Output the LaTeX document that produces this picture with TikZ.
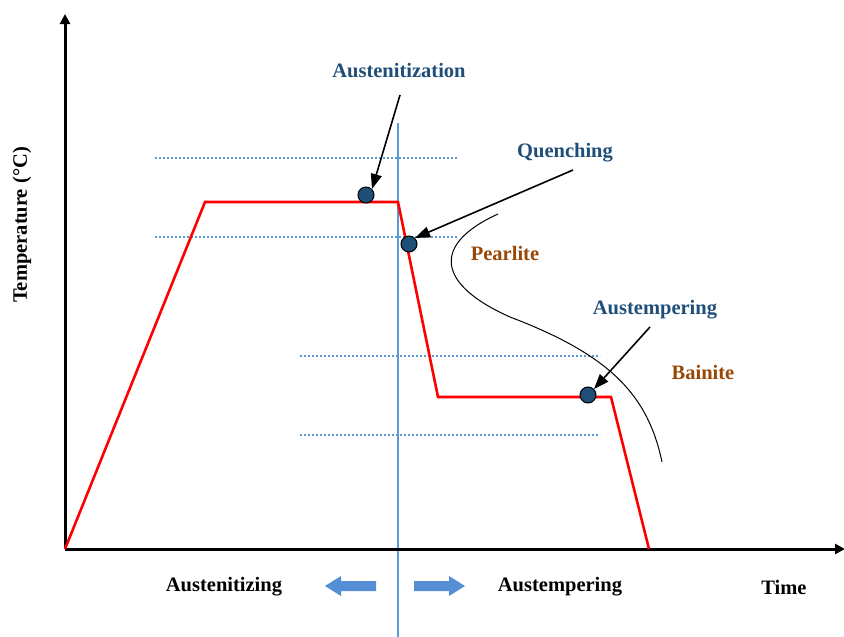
\documentclass[tikz,border=0pt]{standalone}
\usepackage{fontspec}
\setmainfont{Liberation Serif}
\usetikzlibrary{arrows.meta}
\definecolor{lblue}{RGB}{31,78,121}
\definecolor{lbrown}{RGB}{152,72,6}
\definecolor{lineblue}{RGB}{91,155,213}
\definecolor{arrblue}{RGB}{85,142,213}
\definecolor{dotblue}{RGB}{31,78,121}
\tikzset{
  axis/.style={line width=3pt,-{Triangle[length=10pt,width=10pt]}},
  lab/.style={font=\bfseries\fontsize{20.5}{24}\selectfont,text=lblue},
  phase/.style={font=\bfseries\fontsize{20.5}{24}\selectfont,text=lbrown},
  blk/.style={font=\bfseries\fontsize{20.5}{24}\selectfont,text=black},
  pt/.style={circle,fill=dotblue,draw=black,line width=1pt,minimum size=16pt,inner sep=0pt},
  ptr/.style={line width=1.6pt,-{Triangle[length=15pt,width=11pt]}},
  hdot/.style={lineblue,line width=1.5pt,dash pattern=on 1.8pt off 2.2pt},
  bigarr/.style={fill=arrblue,draw=none}
}
\begin{document}
\begin{tikzpicture}[x=1pt,y=-1pt]
\useasboundingbox (0,0) rectangle (844,637);
% dotted levels
\draw[hdot] (155,158) -- (457,158);
\draw[hdot] (155,237) -- (457,237);
\draw[hdot] (300,356) -- (600,356);
\draw[hdot] (300,435) -- (600,435);
% vertical divider
\coordinate (vtop) at (398,123);
\coordinate (vbot) at (398,637);
\draw[lineblue,line width=1.2pt] (vtop) -- (vbot);
% axes
\coordinate (O) at (65,549);
\coordinate (Ytop) at (65,14);
\coordinate (Xend) at (845,549);
\draw[axis] (O) -- (Ytop);
\draw[axis] (O) -- (Xend);
% C-curve
\draw[black,line width=1pt] (498,214) .. controls (430,245) and (438,285) .. (510,317) .. controls (610,355) and (648,395) .. (662,462);
% red schedule
\draw[red,line width=2.6pt,line join=miter] (O) -- (205,202) -- (398,202) -- (438,397) -- (611,397) -- (649,549);
% points
\node[pt] (p1) at (366,195) {};
\node[pt] (p2) at (409,244) {};
\node[pt] (p3) at (588,395) {};
% labels
\node[lab] (l1) at (399,71) {Austenitization};
\node[lab] (l2) at (565,153) {Quenching};
\node[lab] (l3) at (655,310) {Austempering};
\node[phase] (ph1) at (505,253) {Pearlite};
\node[phase] (ph2) at (703,372) {Bainite};
\coordinate (s1) at (400,95);
\coordinate (s2) at (573,170);
\coordinate (s3) at (650,327);
\draw[ptr] (s1) -- (p1.north east);
\draw[ptr] (s2) -- (p2.north east);
\draw[ptr] (s3) -- (p3.north east);
% bottom labels
\node[blk] (b1) at (224,587) {Austenitizing};
\node[blk] (b2) at (560,587) {Austempering};
\node[blk] (b3) at (784,587) {Time};
\fill[bigarr] (325,586) -- (341,576) -- (341,581) -- (376,581) -- (376,591) -- (341,591) -- (341,596) -- cycle;
\fill[bigarr] (465,586) -- (449,576) -- (449,581) -- (414,581) -- (414,591) -- (449,591) -- (449,596) -- cycle;
\node[blk,rotate=90] (ylab) at (22,225) {Temperature (°C)};
\end{tikzpicture}
\end{document}
